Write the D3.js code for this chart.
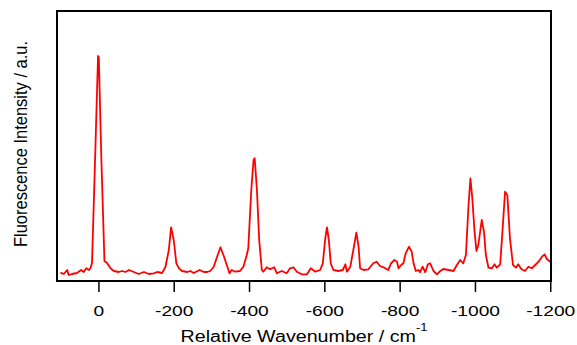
<!DOCTYPE html>
<html>
<head>
<meta charset="utf-8">
<script src="https://cdn.jsdelivr.net/npm/d3@7"></script>
<style>
  body { margin: 0; background: #fff; }
  text { font-family: "Liberation Sans", Arial, sans-serif; }
</style>
</head>
<body>
<script>
// Spectrum (wavenumber in cm-1, intensity in a.u.)
const wavenumber = [
  101, 92, 83, 79, 70, 57, 46, 39, 32, 25, 21, 17, 9, 1, -1, -8, -16, -23, -32, -41,
  -54, -63, -72, -81, -94, -107, -121, -134, -147, -156, -169, -178, -187, -193, -200, -207, -214, -222, -236, -244,
  -253, -269, -280, -289, -297, -306, -315, -324, -332, -341, -348, -354, -363, -376, -385, -394, -398, -406, -412, -415,
  -421, -427, -434, -438, -447, -456, -467, -474, -487, -500, -509, -518, -527, -540, -554, -564, -576, -589, -596, -602,
  -607, -612, -617, -624, -637, -649, -656, -660, -669, -677, -685, -691, -695, -704, -717, -730, -739, -748, -757, -766,
  -770, -777, -786, -793, -797, -804, -810, -816, -825, -832, -837, -843, -850, -854, -861, -868, -875, -881, -890, -899,
  -908, -916, -930, -943, -952, -961, -969, -976, -983, -988, -993, -999, -1004, -1009, -1018, -1024, -1029, -1036, -1045, -1052,
  -1058, -1067, -1073, -1080, -1086, -1093, -1101, -1109, -1115, -1123, -1133, -1142, -1151, -1160, -1169, -1178, -1185, -1191, -1200
];
const intensity = [
  8.3, 7, 11, 6, 7, 8, 11, 9, 12.7, 11, 13, 18, 120, 225, 224, 120, 20, 18, 12.7, 10,
  9, 10, 9, 11, 9, 7, 9, 7, 7.7, 9, 8, 14, 31, 53.7, 41, 17.7, 12.7, 10, 9, 10,
  8, 11, 9, 9, 10, 14, 24, 33.7, 26, 16, 7.7, 11, 9.3, 10, 14.3, 26, 32.7, 91, 121, 122.7,
  91, 41, 11, 9.3, 13.7, 11.7, 13.7, 7.7, 10, 7.7, 12.7, 13.7, 9.3, 6.7, 6.7, 12.7, 9.3, 11, 17.7, 41,
  53.7, 41, 17.7, 11, 10, 11, 16.7, 9.3, 14.3, 31, 48.3, 34.3, 12.7, 11, 11.7, 17.7, 19.3, 15, 13.7, 11.7,
  11, 17.7, 21, 19.3, 12.7, 16, 17.7, 27.7, 34.3, 29.3, 17.7, 10, 11, 8.7, 14.3, 8.7, 16.7, 17.7, 10, 6.7,
  10, 12, 11, 10, 16, 21, 17.7, 26, 76, 102.7, 82.7, 49.3, 30, 36, 61, 49.3, 26, 13.3, 12.7, 16.7,
  13.3, 16.7, 49.3, 89.3, 86, 42.7, 16, 13.3, 16.7, 12, 10, 14.3, 12.7, 16, 19.3, 24.3, 26.7, 22, 19.3
];
const xTicks = [0, -200, -400, -600, -800, -1000, -1200];
const xDomain = [110, -1202];
const yDomain = [0, 270];

const width = 577, height = 345;
const plot = { left: 57, right: 551, top: 11, bottom: 281 };

const svg = d3.select('body')
    .append('svg')
    .attr('width', width)
    .attr('height', height);

const x = d3.scaleLinear().domain(xDomain).range([plot.left, plot.right]);
const y = d3.scaleLinear().domain(yDomain).range([plot.bottom, plot.top]);

const data = wavenumber.map((w, i) => ({ w, v: intensity[i] }));

// spectrum
svg.append('path')
    .datum(data)
    .attr('fill', 'none')
    .attr('stroke', '#ff0000')
    .attr('stroke-width', 1.8)
    .attr('stroke-linejoin', 'round')
    .attr('d', d3.line().x(d => x(d.w)).y(d => y(d.v)));

// frame
svg.append('rect')
    .attr('x', plot.left)
    .attr('y', plot.top)
    .attr('width', plot.right - plot.left)
    .attr('height', plot.bottom - plot.top)
    .attr('fill', 'none')
    .attr('stroke', '#000')
    .attr('stroke-width', 2);

// bottom axis (text in the original is a bit stretched sideways)
const xAxis = svg.append('g')
    .attr('transform', `translate(0,${plot.bottom})`)
    .call(d3.axisBottom(x)
        .tickValues(xTicks)
        .tickSize(11)
        .tickSizeOuter(0)
        .tickFormat(d => String(d)));
xAxis.select('.domain').remove();
xAxis.selectAll('.tick line').attr('stroke', '#000').attr('stroke-width', 1.5);
xAxis.selectAll('.tick text')
    .attr('fill', '#000')
    .attr('y', 24)
    .attr('transform', 'scale(1.28,1)')
    .style('font-size', '15px');

// axis titles
const xTitle = svg.append('text')
    .attr('transform', `translate(${(plot.left + plot.right) / 2},341.5) scale(1.23,1)`)
    .attr('text-anchor', 'middle')
    .style('font-size', '16px')
    .attr('fill', '#000');
xTitle.append('tspan').text('Relative Wavenumber / cm');
xTitle.append('tspan').attr('dy', -11).style('font-size', '10.5px').text('-1');

svg.append('text')
    .attr('transform', 'translate(27,144) scale(1.15,1) rotate(-90)')
    .attr('text-anchor', 'middle')
    .style('font-size', '16.5px')
    .attr('fill', '#000')
    .text('Fluorescence Intensity / a.u.');
</script>
</body>
</html>
